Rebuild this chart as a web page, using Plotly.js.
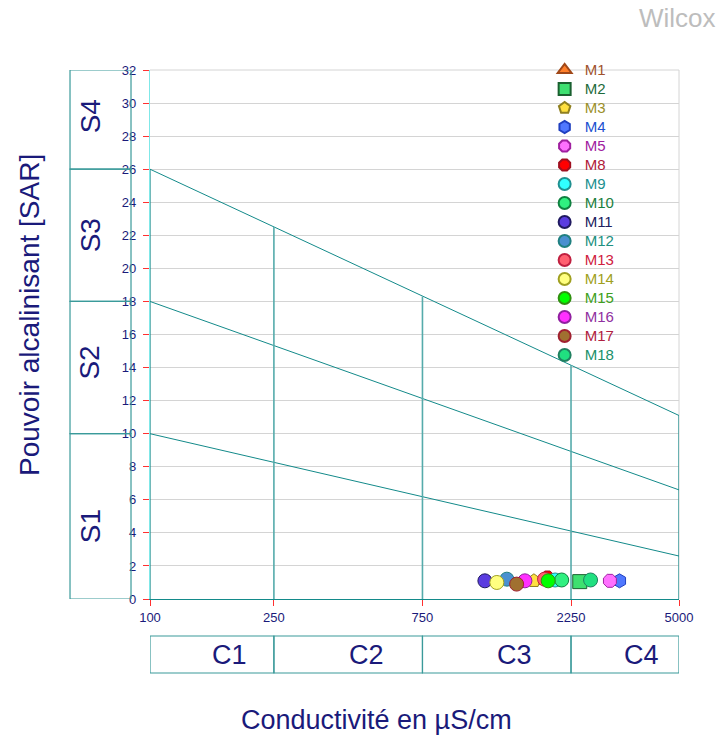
<!DOCTYPE html>
<html>
<head>
<meta charset="utf-8">
<script src="https://cdn.plot.ly/plotly-3.0.1.min.js"></script>
<style>html,body{margin:0;padding:0;background:#fff;}#chart{width:724px;height:737px;}</style>
</head>
<body>
<div id="chart"></div>
<script>
// Samples
const names = ["M1","M2","M3","M4","M5","M8","M9","M10","M11","M12","M13","M14","M15","M16","M17","M18"];
const conductivity = [1800, 2400, 1710, 3220, 3000, 1890, 2000, 2100, 1190, 1400, 1850, 1300, 1900, 1600, 1505, 2600];
const sar = [1.1, 1.05, 1.1, 1.1, 1.1, 1.3, 1.15, 1.15, 1.1, 1.2, 1.2, 1.0, 1.1, 1.1, 0.9, 1.15];
const symbols = ["triangle-up","square","pentagon","hexagon","octagon","octagon","circle","circle","circle","circle","circle","circle","circle","circle","circle","circle"];
const fillColors = ["#ff7f2a","#3ee070","#ffe040","#5078ff","#ff70ff","#ff0000","#30ffff","#30f080","#5a3ce0","#4a90d0","#ff6070","#ffff80","#00ff00","#ff30ff","#a07030","#20e080"];
const lineColors = ["#a04818","#1a6030","#908020","#2040c0","#a020a0","#a01020","#209090","#108040","#201a60","#208080","#c02040","#a0a020","#309010","#9020a0","#a02030","#208060"];
const textColors = ["#a0522d","#1e6b3a","#9b8f2a","#2050d0","#a020a0","#b0203a","#20908f","#1a8040","#202060","#209080","#d02040","#a0a020","#40a020","#9030a0","#b02040","#20906a"];

// Diagram boundaries
const boundX = [100, 5000];
const boundLow = [10, 2.6];
const boundMid = [18, 6.6];
const boundHigh = [26, 11.1];
const classX = [100, 250, 750, 2250, 5000];
const classTop = [26, 22.5, 18.3, 14.15, 11.1];
const xTicks = [100, 250, 750, 2250, 5000];
const sLimits = [0, 10, 18, 26, 32];
const sLabels = ["S1","S2","S3","S4"];
const sLabelY = [4.4, 14.3, 22, 29.2];
const cLimits = [100, 250, 750, 2250, 5000];
const cLabels = ["C1","C2","C3","C4"];
const cLabelX = [180, 495, 1485, 3800];

const teal = "#138a8a";
const navy = "#1a1a7a";
const xmin = 100, xmax = 5000;
const toPaperX = v => Math.log10(v / xmin) / Math.log10(xmax / xmin);

const traces = [];
[boundLow, boundMid, boundHigh].forEach(b => {
  traces.push({x: boundX, y: b, mode: "lines", line: {color: teal, width: 1}, showlegend: false, hoverinfo: "skip"});
});
classX.forEach((cx, i) => {
  const inner = i > 0 && i < classX.length - 1;
  traces.push({x: [cx, cx], y: [0, classTop[i]], mode: "lines", line: {color: inner ? "#55abab" : teal, width: inner ? 1.6 : 1.2}, showlegend: false, hoverinfo: "skip"});
});
names.forEach((n, i) => {
  traces.push({
    x: [conductivity[i]], y: [sar[i]], mode: "markers", type: "scatter",
    name: '<span style="color:' + textColors[i] + ';font-size:15px">' + n + '</span>',
    marker: {symbol: symbols[i], size: 14, color: fillColors[i], line: {color: lineColors[i], width: 1}}
  });
});

const shapes = [];
// top and right borders (gray)
shapes.push({type: "line", xref: "paper", yref: "paper", x0: 0, x1: 1, y0: 1, y1: 1, line: {color: "#d4d4d4", width: 1}, layer: "below"});
shapes.push({type: "line", xref: "paper", yref: "paper", x0: 1, x1: 1, y0: 0, y1: 1, line: {color: "#d4d4d4", width: 1}, layer: "below"});
for (let i = 0; i < 4; i++) {
  shapes.push({type: "rect", xref: "paper", yref: "y", x0: -0.1512, x1: -0.0359, y0: sLimits[i], y1: sLimits[i+1], line: {color: "#3a9a9a", width: 1.2}});
  shapes.push({type: "rect", xref: "x", yref: "paper", x0: cLimits[i], x1: cLimits[i+1], y0: -0.0699, y1: -0.1399, line: {color: "#3a9a9a", width: 1.2}});
}
const annotations = [];
for (let i = 0; i < 4; i++) {
  annotations.push({xref: "paper", yref: "y", x: -0.1134, y: sLabelY[i], xanchor: "center", yanchor: "middle", text: sLabels[i], textangle: -90, showarrow: false, font: {size: 28, color: navy}});
  annotations.push({xref: "paper", yref: "paper", x: toPaperX(cLabelX[i]), y: -0.105, xanchor: "center", yanchor: "middle", text: cLabels[i], showarrow: false, font: {size: 27, color: navy}});
}
annotations.push({xref: "paper", yref: "paper", x: -0.2268, y: 0.537, xanchor: "center", yanchor: "middle", text: "Pouvoir alcalinisant [SAR]", textangle: -90, showarrow: false, font: {size: 28, color: navy}});
annotations.push({xref: "paper", yref: "paper", x: 0.429, y: -0.2287, xanchor: "center", yanchor: "middle", text: "Conductivité en µS/cm", showarrow: false, font: {size: 27, color: navy}});
annotations.push({xref: "paper", yref: "paper", x: 1.0737, xanchor: "right", y: 1.098, yanchor: "middle", text: "Wilcox", showarrow: false, font: {size: 26, color: "#bdbdbd"}});

const layout = {
  width: 724, height: 737,
  margin: {l: 150, r: 45, t: 70, b: 138},
  paper_bgcolor: "#fff", plot_bgcolor: "#fff",
  font: {family: "Arial, 'Liberation Sans', sans-serif", color: navy},
  showlegend: true,
  legend: {x: 0.746, y: 1.0274, xanchor: "left", yanchor: "top", bgcolor: "rgba(0,0,0,0)", font: {size: 12.25}, itemsizing: "constant", tracegroupgap: 0},
  xaxis: {type: "log", range: [Math.log10(xmin), Math.log10(xmax)], tickvals: xTicks, ticktext: xTicks.map(String), ticks: "outside", ticklen: 6, tickcolor: "#ff3030", showgrid: false, zeroline: false, showline: true, linecolor: teal, linewidth: 1.2, tickfont: {size: 13, color: navy}},
  yaxis: {range: [0, 32], dtick: 2, ticks: "outside", ticklen: 6, tickcolor: "#ff3030", ticklabelstandoff: 4, showgrid: true, gridcolor: "#d4d4d4", zeroline: false, showline: true, linecolor: "#7fe8e8", linewidth: 1.2, tickfont: {size: 13, color: navy}},
  shapes: shapes,
  annotations: annotations
};
Plotly.newPlot("chart", traces, layout, {displayModeBar: false, staticPlot: true});
</script>
</body>
</html>
